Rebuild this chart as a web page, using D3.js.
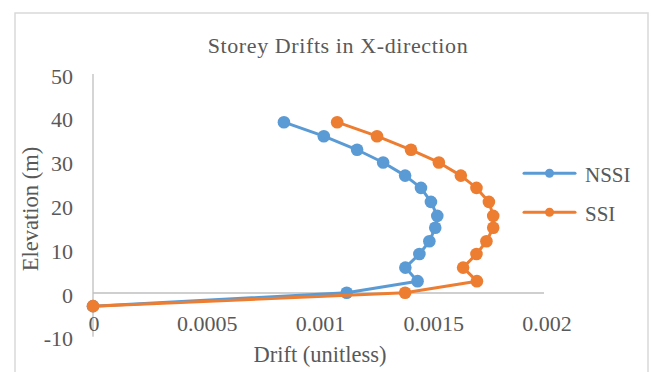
<!DOCTYPE html>
<html>
<head>
<meta charset="utf-8">
<script src="https://cdn.jsdelivr.net/npm/d3@7"></script>
<style>
  html, body { margin: 0; padding: 0; background: #fff; }
  svg { display: block; }
  text { font-family: "Liberation Serif", "DejaVu Serif", serif; fill: #595959; }
</style>
</head>
<body>
<svg id="chart" width="651" height="372"></svg>
<script>
// Storey elevations (m) and the inter-storey drift of each model
const elevation = [39.0, 35.8, 32.7, 29.8, 26.8, 24.0, 20.8, 17.6, 14.9, 11.8, 8.9, 5.8, 2.7, 0.05, -3.0];
const nssiDrift = [0.000843, 0.001019, 0.001166, 0.001281, 0.001378, 0.001448, 0.001492, 0.001520,
                   0.001511, 0.001485, 0.001441, 0.001379, 0.001433, 0.001120, 0];
const ssiDrift  = [0.001078, 0.001254, 0.001404, 0.001527, 0.001624, 0.001693, 0.001748, 0.001767,
                   0.001767, 0.001737, 0.001693, 0.001634, 0.001695, 0.001378, 0];

const seriesNames = ["NSSI", "SSI"];
const seriesColors = ["#5B9BD5", "#ED7D31"];
const xTicks = [0, 0.0005, 0.001, 0.0015, 0.002];
const xTickLabels = ["0", "0.0005", "0.001", "0.0015", "0.002"];
const yTicks = [-10, 0, 10, 20, 30, 40, 50];
const yTickLabels = ["-10", "0", "10", "20", "30", "40", "50"];

const chartTitle = "Storey Drifts in X-direction";
const xTitle = "Drift (unitless)";
const yTitle = "Elevation (m)";

const series = [nssiDrift, ssiDrift].map((drift, i) => ({
  name: seriesNames[i],
  color: seriesColors[i],
  points: drift.map((d, j) => ({ x: d, y: elevation[j] }))
}));

const svg = d3.select("#chart");

// Chart frame
svg.append("rect")
  .attr("x", 15).attr("y", 13)
  .attr("width", 633).attr("height", 380)
  .attr("fill", "#fff")
  .attr("stroke", "#D9D9D9")
  .attr("stroke-width", 1.5);

const x = d3.scaleLinear().domain([0, 0.002]).range([93, 546]);
const y = d3.scaleLinear().domain([-10, 50]).range([336.8, 74]);

// Vertical axis line at drift = 0
svg.append("line")
  .attr("x1", x(0)).attr("x2", x(0))
  .attr("y1", y(50)).attr("y2", y(-10))
  .attr("stroke", "#BFBFBF").attr("stroke-width", 1.3);

// Horizontal axis line at elevation = 0
svg.append("line")
  .attr("x1", x(0)).attr("x2", x(0.002) - 2)
  .attr("y1", y(0)).attr("y2", y(0))
  .attr("stroke", "#BFBFBF").attr("stroke-width", 1.3);

// Tick labels
svg.append("g").selectAll("text")
  .data(yTicks)
  .join("text")
  .attr("x", 73)
  .attr("y", d => y(d) + 2)
  .attr("text-anchor", "end")
  .attr("dominant-baseline", "central")
  .attr("font-size", 22)
  .text((d, i) => yTickLabels[i]);

svg.append("g").selectAll("text")
  .data(xTicks)
  .join("text")
  .attr("x", d => x(d) + 1)
  .attr("y", 331)
  .attr("text-anchor", "middle")
  .attr("font-size", 22)
  .text((d, i) => xTickLabels[i]);

// Titles
svg.append("text")
  .attr("x", 338).attr("y", 53)
  .attr("text-anchor", "middle")
  .attr("font-size", 22)
  .attr("letter-spacing", 0.6)
  .text(chartTitle);

svg.append("text")
  .attr("x", 320).attr("y", 362)
  .attr("text-anchor", "middle")
  .attr("font-size", 22.5)
  .text(xTitle);

svg.append("text")
  .attr("transform", "translate(38,209) rotate(-90)")
  .attr("text-anchor", "middle")
  .attr("font-size", 22.5)
  .text(yTitle);

// Series lines and markers
const line = d3.line().x(d => x(d.x)).y(d => y(d.y));

const g = svg.append("g");
series.forEach(s => {
  g.append("path")
    .datum(s.points)
    .attr("d", line)
    .attr("fill", "none")
    .attr("stroke", s.color)
    .attr("stroke-width", 3)
    .attr("stroke-linejoin", "round")
    .attr("stroke-linecap", "round");
  g.append("g").selectAll("circle")
    .data(s.points)
    .join("circle")
    .attr("cx", d => x(d.x))
    .attr("cy", d => y(d.y))
    .attr("r", 6.3)
    .attr("fill", s.color);
});

// Legend
const legend = svg.append("g");
series.forEach((s, i) => {
  const ly = 173.3 + i * 39;
  legend.append("line")
    .attr("x1", 524).attr("x2", 575)
    .attr("y1", ly).attr("y2", ly)
    .attr("stroke", s.color)
    .attr("stroke-width", 3)
    .attr("stroke-linecap", "round");
  legend.append("circle")
    .attr("cx", 549.5).attr("cy", ly)
    .attr("r", 4.5)
    .attr("fill", s.color);
  legend.append("text")
    .attr("x", 585).attr("y", ly + 9)
    .attr("font-size", 21)
    .text(s.name);
});
</script>
</body>
</html>
